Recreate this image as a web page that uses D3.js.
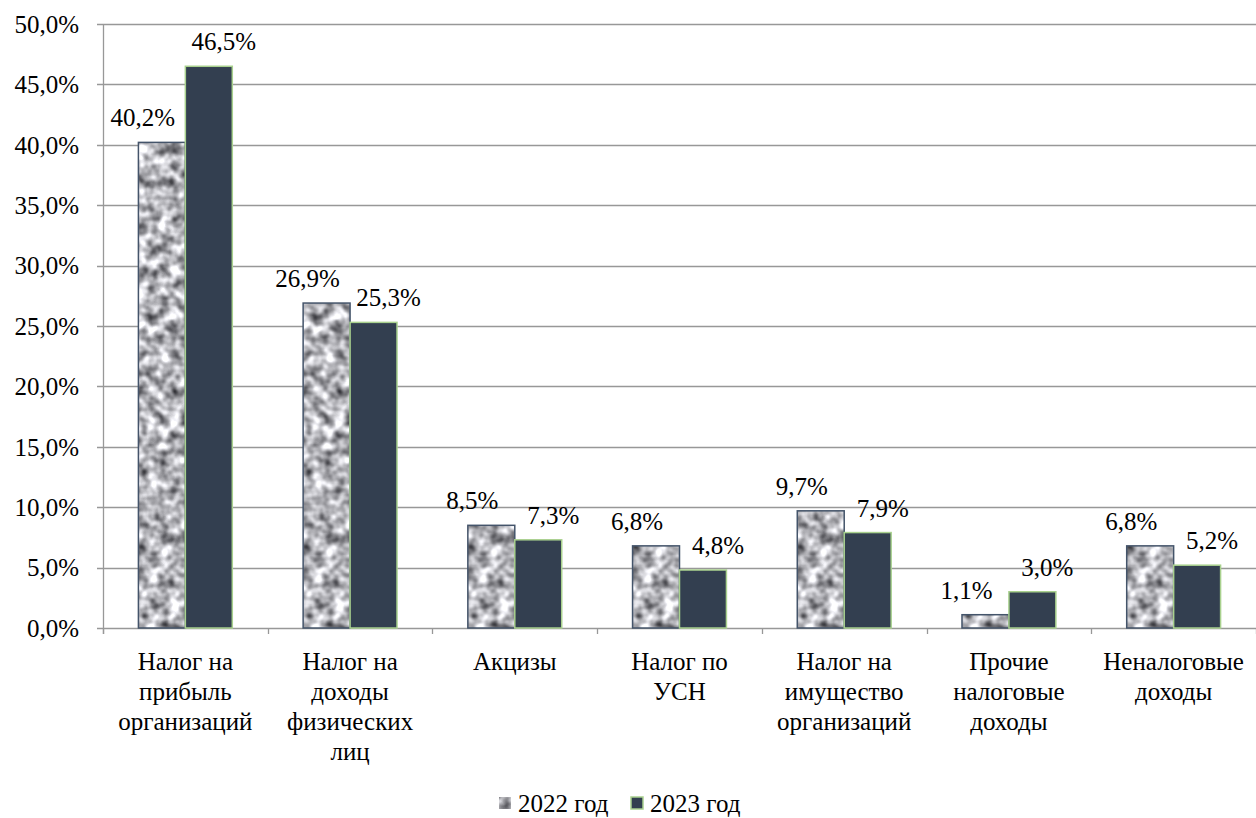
<!DOCTYPE html>
<html>
<head>
<meta charset="utf-8">
<script src="https://cdn.jsdelivr.net/npm/d3@7"></script>
</head>
<body style="margin:0">
<script>
/* DATA */
const categories = [
  ["Налог на", "прибыль", "организаций"],
  ["Налог на", "доходы", "физических", "лиц"],
  ["Акцизы"],
  ["Налог по", "УСН"],
  ["Налог на", "имущество", "организаций"],
  ["Прочие", "налоговые", "доходы"],
  ["Неналоговые", "доходы"]
];
const seriesNames = ["2022 год", "2023 год"];
const values2022 = [40.2, 26.9, 8.5, 6.8, 9.7, 1.1, 6.8];
const values2023 = [46.5, 25.3, 7.3, 4.8, 7.9, 3.0, 5.2];
const yTicks = [0, 5, 10, 15, 20, 25, 30, 35, 40, 45, 50];

/* LAYOUT */
const W = 1256, H = 818;
const plot = { left: 103, right: 1256, top: 24, bottom: 628 };
const fontSize = 25;
const serif = '"Liberation Serif"';

const fmt = v => v.toFixed(1).replace(".", ",") + "%";

const svg = d3.select("body").append("svg")
  .attr("width", W)
  .attr("height", H);

// granite-ish texture for the 2022 bars
const defs = svg.append("defs");
const filt = defs.append("filter")
  .attr("id", "noise")
  .attr("color-interpolation-filters", "sRGB")
  .attr("x", 0).attr("y", 0).attr("width", "100%").attr("height", "100%");
filt.append("feTurbulence")
  .attr("type", "fractalNoise")
  .attr("baseFrequency", 0.09)
  .attr("numOctaves", 2)
  .attr("seed", 7);
filt.append("feColorMatrix")
  .attr("type", "matrix")
  .attr("values", "1.35 0 0 0 0.03  1.35 0 0 0 0.03  1.35 0 0 0 0.05  0 0 0 0 1");
defs.append("pattern")
  .attr("id", "granite")
  .attr("patternUnits", "userSpaceOnUse")
  .attr("width", W).attr("height", H)
  .append("rect")
  .attr("width", W).attr("height", H)
  .attr("filter", "url(#noise)");

const x0 = d3.scaleBand()
  .domain(d3.range(categories.length))
  .range([plot.left, plot.right]);

const x1 = d3.scaleBand()
  .domain(seriesNames)
  .range([x0.bandwidth() * 0.215, x0.bandwidth() * 0.785]);

const y = d3.scaleLinear()
  .domain([0, 50])
  .range([plot.bottom, plot.top]);

// y tick labels (drawn first)
svg.append("g")
  .selectAll("text")
  .data(yTicks)
  .join("text")
  .attr("x", 79)
  .attr("y", d => y(d))
  .attr("dy", "0.35em")
  .attr("text-anchor", "end")
  .attr("font-size", fontSize)
  .style("font-family", serif)
  .text(d => d.toFixed(1).replace(".", ",") + "%");

// gridlines
svg.append("g")
  .selectAll("line")
  .data(yTicks)
  .join("line")
  .attr("x1", plot.left - 6)
  .attr("x2", plot.right)
  .attr("y1", d => Math.round(y(d)) + 0.5)
  .attr("y2", d => Math.round(y(d)) + 0.5)
  .attr("stroke", "#989898")
  .attr("stroke-width", 1.3);

// y axis line
svg.append("line")
  .attr("x1", plot.left + 0.5).attr("x2", plot.left + 0.5)
  .attr("y1", plot.top).attr("y2", plot.bottom + 6)
  .attr("stroke", "#989898")
  .attr("stroke-width", 1.3);

// category ticks
svg.append("g")
  .selectAll("line")
  .data(d3.range(categories.length + 1))
  .join("line")
  .attr("x1", i => Math.round(plot.left + i * x0.step()) + 0.5)
  .attr("x2", i => Math.round(plot.left + i * x0.step()) + 0.5)
  .attr("y1", plot.bottom)
  .attr("y2", plot.bottom + 6)
  .attr("stroke", "#989898")
  .attr("stroke-width", 1.3);

// bars
const rows = categories.map((c, i) => ({
  i,
  vals: [
    { s: seriesNames[0], v: values2022[i] },
    { s: seriesNames[1], v: values2023[i] }
  ]
}));

const groups = svg.append("g")
  .selectAll("g")
  .data(rows)
  .join("g")
  .attr("transform", d => `translate(${x0(d.i)},0)`);

groups.selectAll("rect")
  .data(d => d.vals)
  .join("rect")
  .attr("x", d => x1(d.s))
  .attr("y", d => y(d.v))
  .attr("width", x1.bandwidth())
  .attr("height", d => y(0) - y(d.v))
  .attr("fill", d => d.s === seriesNames[0] ? "url(#granite)" : "#333f50")
  .attr("stroke", d => d.s === seriesNames[0] ? "#44546a" : "#a9d18e")
  .attr("stroke-width", 1.5);

// value labels (nudged like in the original)
groups.selectAll("text.val")
  .data(d => d.vals)
  .join("text")
  .attr("class", "val")
  .attr("x", d => x1(d.s) + x1.bandwidth() / 2 + (d.s === seriesNames[0] ? -19 : 15))
  .attr("y", d => y(d.v) - 16)
  .attr("text-anchor", "middle")
  .attr("font-size", fontSize)
  .style("font-family", serif)
  .text(d => fmt(d.v));

// category labels
svg.append("g")
  .selectAll("text")
  .data(rows)
  .join("text")
  .attr("x", d => x0(d.i) + x0.bandwidth() / 2)
  .attr("y", 670)
  .attr("text-anchor", "middle")
  .attr("font-size", fontSize)
  .style("font-family", serif)
  .selectAll("tspan")
  .data(d => categories[d.i])
  .join("tspan")
  .attr("x", function () { return this.parentNode.getAttribute("x"); })
  .attr("dy", (d, j) => j === 0 ? 0 : 30)
  .text(d => d);

// legend
const legend = svg.append("g")
  .attr("transform", "translate(499,0)");
const legendItems = legend.selectAll("g")
  .data(seriesNames)
  .join("g")
  .attr("transform", (d, i) => `translate(${i * 132},0)`);
legendItems.append("rect")
  .attr("x", 0)
  .attr("y", 797)
  .attr("width", 12)
  .attr("height", 12)
  .attr("fill", (d, i) => i === 0 ? "url(#granite)" : "#333f50")
  .attr("stroke", (d, i) => i === 0 ? "none" : "#a9d18e")
  .attr("stroke-width", 1.5);
legendItems.append("text")
  .attr("x", 19)
  .attr("y", 812)
  .attr("font-size", fontSize)
  .style("font-family", serif)
  .text(d => d);
</script>
</body>
</html>
